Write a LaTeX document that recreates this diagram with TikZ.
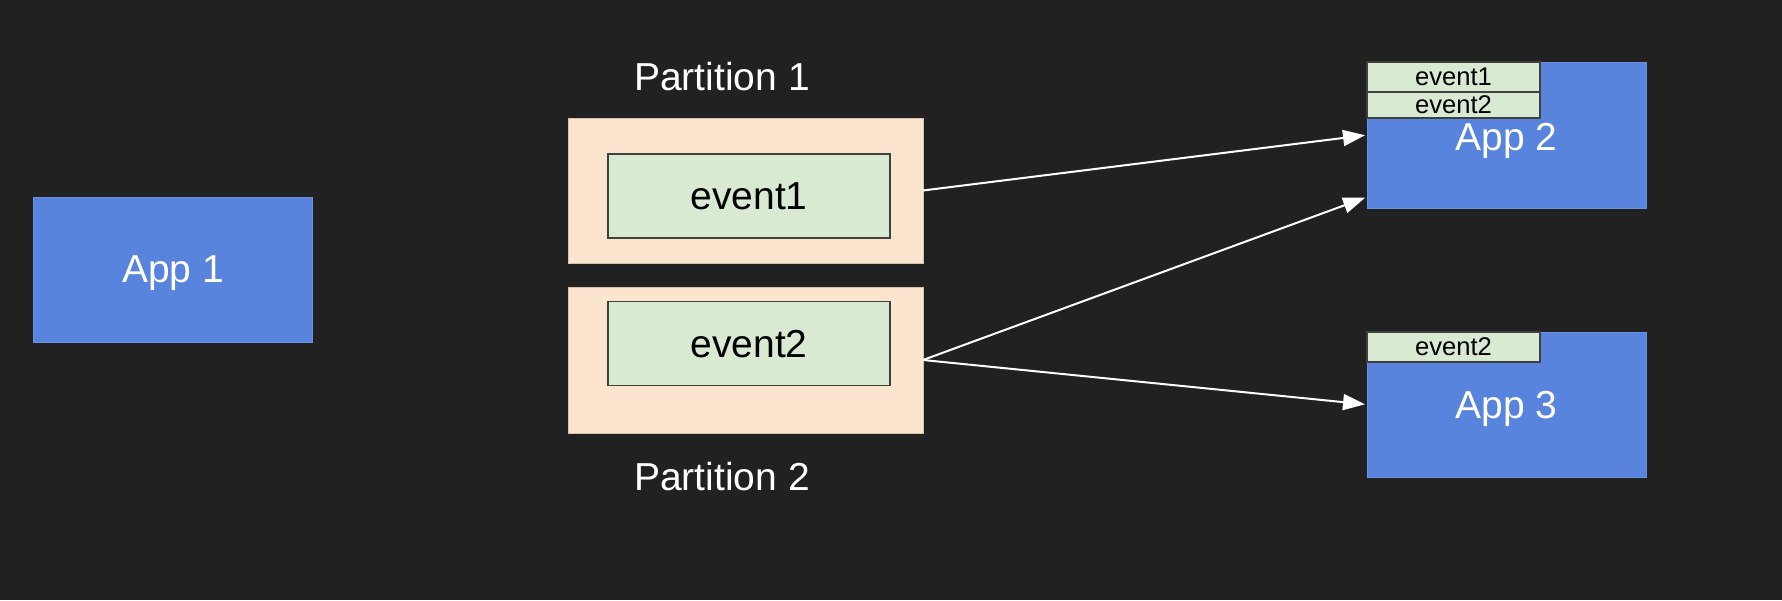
\documentclass[tikz,border=0pt]{standalone}
\usepackage{fontspec}
\setmainfont{Liberation Sans}
\usetikzlibrary{arrows.meta}
\definecolor{bg}{HTML}{212121}
\definecolor{appblue}{HTML}{5884DE}
\definecolor{peach}{HTML}{FBE5CF}
\definecolor{evgreen}{HTML}{D9EAD3}
\tikzset{
  app/.style={fill=appblue,draw=appblue!90!white,minimum width=139.5pt,minimum height=72.5pt,inner sep=0pt,outer sep=0pt,text=white,text depth=0pt,font=\fontsize{19.5}{22}\selectfont},
  part/.style={fill=peach,draw=peach!85!black,line width=0.4pt,minimum width=177.5pt,minimum height=72.5pt,inner sep=0pt,outer sep=0pt},
  ev/.style={fill=evgreen,draw=black!75,line width=0.9pt,minimum width=141pt,minimum height=42pt,inner sep=0pt,text depth=0pt,font=\fontsize{19.5}{22}\selectfont},
  tag/.style={fill=evgreen,draw=black!75,line width=0.8pt,minimum width=86.5pt,inner sep=0pt,text depth=0pt,font=\fontsize{12.8}{14}\selectfont},
  lbl/.style={text=white,font=\fontsize{19.5}{22}\selectfont},
  link/.style={->,white,line width=1pt,shorten >=1pt}
}
\begin{document}
\begin{tikzpicture}[x=0.5pt,y=-0.5pt,>={Triangle[length=11pt,width=8pt]}]
\fill[bg] (0,0) rectangle (1782,600);

\node[app] (app1) at (173,269.5) {App 1};

\node[part] (p1) at (745.5,190.5) {};
\node[ev] (e1) at (749,196) {event1};
\node[part,minimum height=73pt] (p2) at (745.5,360) {};
\node[ev] (e2) at (749,343.5) {event2};
\node[lbl] (p1lbl) at (722,77) {Partition 1};
\node[lbl] (p2lbl) at (722,477) {Partition 2};

\node[app,minimum height=73pt] (app2) at (1506.5,135) {};
\node[app,fill=none,draw=none] (app2lbl) at (1506.5,137) {App 2};
\node[tag,minimum height=15pt] (t1) at (1453.5,77) {event1};
\node[tag,minimum height=13pt] (t2) at (1453.5,105) {event2};
\node[app] (app3) at (1506.5,404.5) {App 3};
\node[tag,minimum height=15pt] (t3) at (1453.5,347) {event2};

\draw[link] (p1.east)--(app2.west);
\draw[link] (p2.east)--([yshift=5.5pt]app2.south west);
\draw[link] (p2.east)--(app3.west);
\end{tikzpicture}
\end{document}
